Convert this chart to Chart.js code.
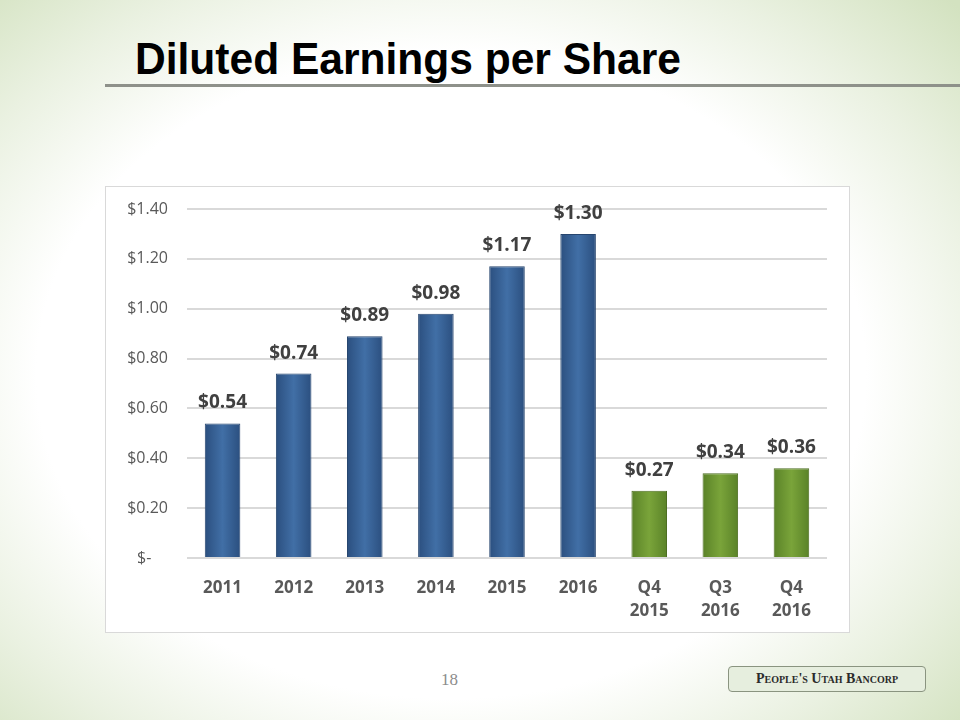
<!DOCTYPE html>
<html lang="en">
<head>
    <meta charset="UTF-8">
    <title>Diluted Earnings per Share</title>
    <style>
        html, body { margin: 0; padding: 0; }
        body {
            width: 960px; height: 720px; position: relative; overflow: hidden;
            background: radial-gradient(ellipse 72% 75% at 47% 52%, #ffffff 60%, #eaf1e1 80%, #d3e2c0 100%);
            font-family: "Liberation Sans", Arial, sans-serif;
        }
        .title {
            position: absolute; left: 135px; top: 33px; margin: 0;
            font-family: "Liberation Sans", Arial, sans-serif;
            font-weight: 700; font-size: 45px; color: #000;
            transform: scaleX(0.945); transform-origin: left top;
            white-space: nowrap;
        }
        .rule {
            position: absolute; left: 105px; top: 84px; width: 855px; height: 3px;
            background: #8e918a;
        }
        .chart-box {
            position: absolute; left: 105px; top: 186px; width: 743px; height: 445px;
            background: #fff; border: 1px solid #d9d9d9;
        }
        .page-num {
            position: absolute; left: 441px; top: 670px;
            font-family: "Liberation Serif", "DejaVu Serif", serif; font-size: 17px; color: #8c8c8c;
        }
        .logo {
            position: absolute; left: 728px; top: 666px; width: 196px; height: 24px;
            border: 1px solid #8a9480; border-radius: 4px;
            background: #e6eede;
            font-family: "Liberation Serif", "DejaVu Serif", serif; font-weight: 700;
            font-size: 14px; font-variant: small-caps; color: #2b2b2b;
            text-align: center; line-height: 24px;
        }
    </style>
</head>
<body>
    <h1 class="title">Diluted Earnings per Share</h1>
    <div class="rule"></div>
    <div class="chart-box">
        <canvas id="epsChart" width="743" height="445"></canvas>
    </div>
    <div class="page-num">18</div>
    <div class="logo">People's Utah Bancorp</div>

    <script src="https://cdn.jsdelivr.net/npm/chart.js"></script>
    <script>
        const periods = [['2011'], ['2012'], ['2013'], ['2014'], ['2015'], ['2016'], ['Q4', '2015'], ['Q3', '2016'], ['Q4', '2016']];
        const eps = [0.54, 0.74, 0.89, 0.98, 1.17, 1.30, 0.27, 0.34, 0.36];
        const isQuarter = [false, false, false, false, false, false, true, true, true];
        const yTicks = [0, 0.2, 0.4, 0.6, 0.8, 1.0, 1.2, 1.4];

        const labelFont = '"Open Sans", "Liberation Sans", sans-serif';

        // horizontal gradient across each bar for the bevelled look
        function barFill(ctx) {
            const chart = ctx.chart;
            const x = chart.scales.x;
            if (!x || x.width === undefined || ctx.dataIndex === undefined) return '#3b659a';
            const cx = x.getPixelForValue(ctx.dataIndex);
            const half = (x.width / periods.length) * 0.25;
            const g = chart.ctx.createLinearGradient(cx - half, 0, cx + half, 0);
            if (isQuarter[ctx.dataIndex]) {
                g.addColorStop(0, '#5a8228');
                g.addColorStop(0.5, '#7aa43a');
                g.addColorStop(1, '#5a8228');
            } else {
                g.addColorStop(0, '#2b4f7f');
                g.addColorStop(0.5, '#416fa6');
                g.addColorStop(1, '#2b4f7f');
            }
            return g;
        }

        const valueLabels = {
            id: 'valueLabels',
            afterDatasetsDraw(chart) {
                const c = chart.ctx;
                const meta = chart.getDatasetMeta(0);
                c.save();
                c.font = 'bold 19px ' + labelFont;
                c.fillStyle = '#404040';
                c.textAlign = 'center';
                c.textBaseline = 'alphabetic';
                meta.data.forEach((bar, i) => {
                    c.fillText('$' + eps[i].toFixed(2), bar.x, bar.y - 15);
                });
                c.restore();
            }
        };

        new Chart(document.getElementById('epsChart'), {
            type: 'bar',
            data: {
                labels: periods,
                datasets: [{
                    data: eps,
                    backgroundColor: barFill,
                    borderColor: ctx => isQuarter[ctx.dataIndex] ? '#4d6e22' : '#27466f',
                    borderWidth: 1,
                    barPercentage: 0.5,
                    categoryPercentage: 1.0
                }]
            },
            options: {
                responsive: false,
                animation: false,
                layout: { padding: { top: 22, right: 22, left: 0, bottom: 0 } },
                plugins: {
                    legend: { display: false },
                    tooltip: { enabled: false }
                },
                scales: {
                    x: {
                        grid: { display: false },
                        border: { display: false },
                        ticks: {
                            color: '#595959',
                            font: { family: labelFont, size: 17, weight: 'bold', lineHeight: 1.35 },
                            padding: 11,
                            maxRotation: 0
                        },
                        afterFit(scale) { scale.height = 74; }
                    },
                    y: {
                        min: 0,
                        max: 1.4,
                        afterBuildTicks(scale) { scale.ticks = yTicks.map(v => ({ value: v })); },
                        grid: { color: '#d9d9d9', lineWidth: 2, drawTicks: false },
                        border: { display: false },
                        ticks: {
                            color: '#595959',
                            font: { family: labelFont, size: 16 },
                            padding: 19,
                            callback: v => v === 0 ? '$-    ' : '$' + v.toFixed(2)
                        },
                        afterFit(scale) {
                            scale.width = 81;
                            scale.paddingTop = 0;
                            scale.paddingBottom = 0;
                        }
                    }
                }
            },
            plugins: [valueLabels]
        });
    </script>
</body>
</html>
